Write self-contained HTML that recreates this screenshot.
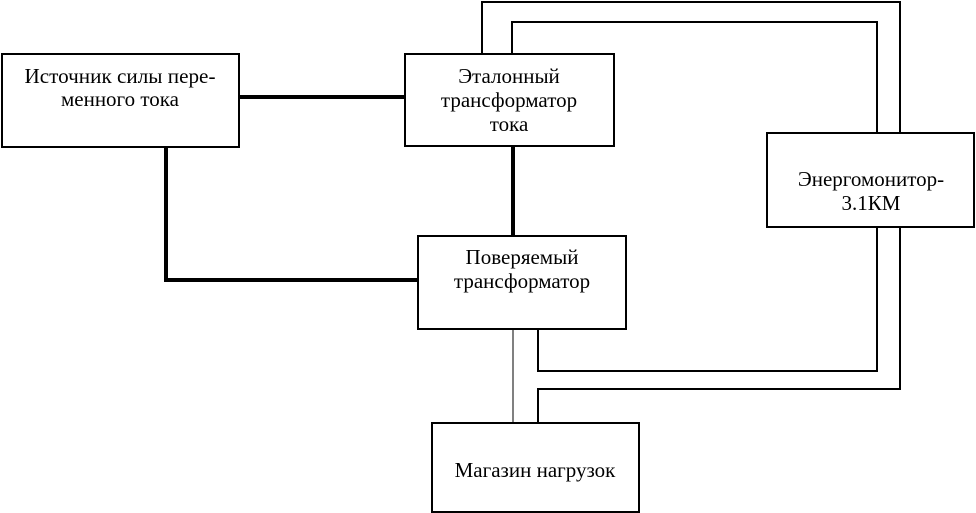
<!DOCTYPE html>
<html><head><meta charset="utf-8"><style>
html,body{margin:0;padding:0;background:#fff;}
svg{display:block;}
text{font-family:"Liberation Serif","DejaVu Serif",serif;font-size:21px;fill:#000;text-anchor:middle;}
</style></head><body>
<svg width="976" height="513" viewBox="0 0 976 513" xmlns="http://www.w3.org/2000/svg">
<g fill="none" stroke="#000">
<rect x="2" y="54" width="237" height="93" stroke-width="2"/>
<rect x="405" y="54" width="209" height="92" stroke-width="2"/>
<rect x="418" y="236" width="208" height="93" stroke-width="2"/>
<rect x="767" y="133" width="207" height="94" stroke-width="2"/>
<rect x="432" y="423" width="207" height="89" stroke-width="2"/>
<line x1="239" y1="97" x2="405" y2="97" stroke-width="4"/>
<polyline points="166,147 166,280 418,280" stroke-width="4"/>
<line x1="513" y1="146" x2="513" y2="236" stroke-width="4"/>
<polyline points="482,54 482,2 900,2 900,133" stroke-width="2"/>
<polyline points="512,54 512,22 877,22 877,133" stroke-width="2"/>
<polyline points="877,227 877,371 538,371 538,329" stroke-width="2"/>
<polyline points="900,227 900,389 538,389 538,423" stroke-width="2"/>
<line x1="513" y1="329" x2="513" y2="423" stroke-width="1"/>
</g>
<text x="120" y="83" textLength="191" lengthAdjust="spacingAndGlyphs">Источник силы пере-</text>
<text x="120" y="106">менного тока</text>
<text x="509" y="83">Эталонный</text>
<text x="509" y="107">трансформатор</text>
<text x="509" y="131">тока</text>
<text x="522" y="264">Поверяемый</text>
<text x="522" y="288">трансформатор</text>
<text x="871" y="186">Энергомонитор-</text>
<text x="871" y="210">3.1КМ</text>
<text x="535" y="477">Магазин нагрузок</text>
</svg>
</body></html>
